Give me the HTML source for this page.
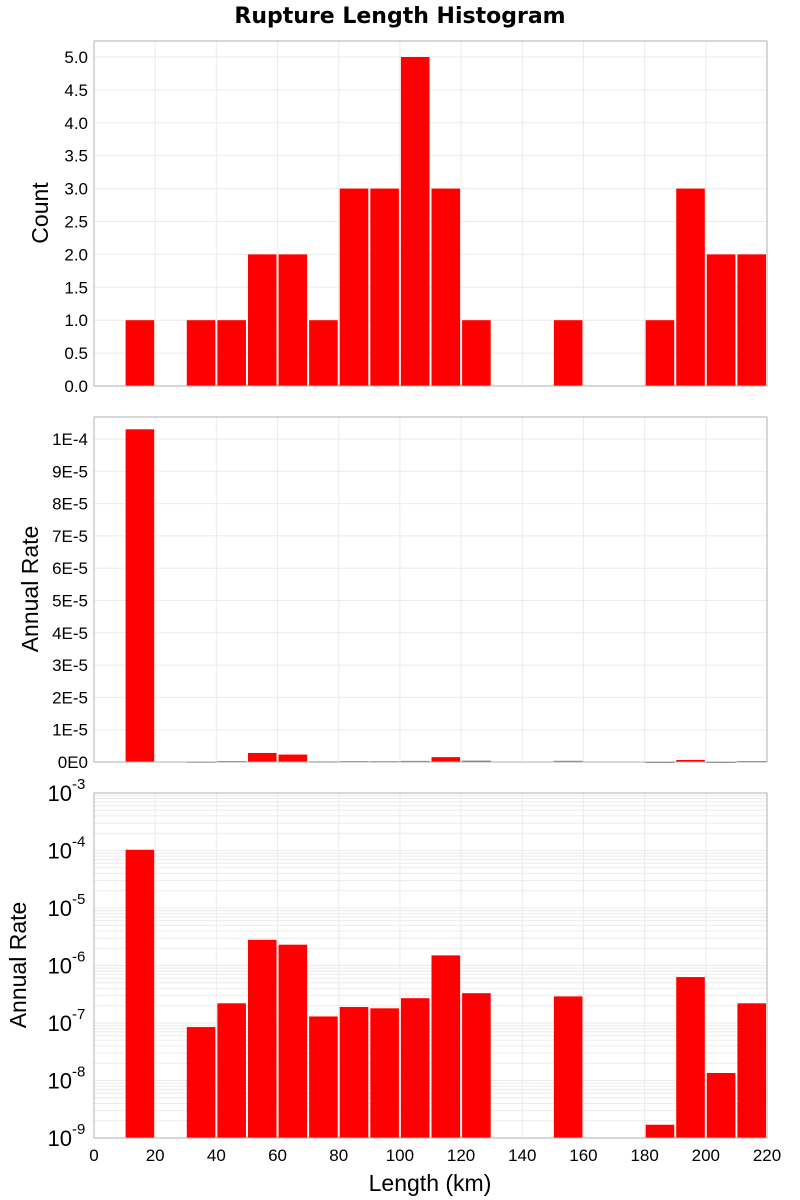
<!DOCTYPE html>
<html><head><meta charset="utf-8"><style>body{margin:0;background:#fff}svg{display:block;font-family:"Liberation Sans","DejaVu Sans",sans-serif}</style></head>
<body>
<svg id="c" width="800" height="1200">
<text x="400" y="23" text-anchor="middle" font-size="22" font-weight="bold" font-family="DejaVu Sans, sans-serif">Rupture Length Histogram</text>
</svg>
<script>
const binStarts=[10,20,30,40,50,60,70,80,90,100,110,120,130,140,150,160,170,180,190,200,210];
const counts=[1,0,1,1,2,2,1,3,3,5,3,1,0,0,1,0,0,1,3,2,2];
const rates=[1.03e-4,0,8.5e-8,2.2e-7,2.8e-6,2.3e-6,1.3e-7,1.9e-7,1.8e-7,2.7e-7,1.5e-6,3.3e-7,0,0,2.9e-7,0,0,1.7e-9,6.3e-7,1.35e-8,2.2e-7];
const xTicks=[0,20,40,60,80,100,120,140,160,180,200,220];
const countTicks=[0,0.5,1,1.5,2,2.5,3,3.5,4,4.5,5];
const rateTicks=[0,1e-5,2e-5,3e-5,4e-5,5e-5,6e-5,7e-5,8e-5,9e-5,1e-4];
const rateTickLabels=["0E0","1E-5","2E-5","3E-5","4E-5","5E-5","6E-5","7E-5","8E-5","9E-5","1E-4"];
const logExps=[-9,-8,-7,-6,-5,-4,-3];
const svg=document.getElementById('c');const NS='http://www.w3.org/2000/svg';
function mk(t,a,p){const e=document.createElementNS(NS,t);for(const k in a)e.setAttribute(k,a[k]);(p||svg).appendChild(e);return e;}
const L=94,R=767;const xs=v=>L+(v/220)*(R-L);
const panels=[{top:41,bot:386,name:'count'},{top:417,bot:762,name:'rate-linear'},{top:793,bot:1138,name:'rate-log'}];
const ys=[v=>386-v*65.8, v=>762-v/1e-5*32.3, v=>v>0?1138-(Math.log10(v)+9)*57.5:1138];
panels.forEach((p,i)=>{
 const g=mk('g',{});
 
 
 xTicks.forEach(t=>{const l=mk('line',{x1:xs(t),x2:xs(t),y1:p.top,y2:p.bot,stroke:'#ebebeb','stroke-width':1},g);});
 if(i==0){countTicks.forEach(t=>{const y=ys[0](t);const l=mk('line',{x1:L,x2:R,y1:y,y2:y,stroke:'#ebebeb'},g);const tx=mk('text',{x:L-6,y:y+6,'text-anchor':'end','font-size':17},g);tx.textContent=t.toFixed(1);});}
 if(i==1){rateTicks.forEach((t,j)=>{const y=ys[1](t);const l=mk('line',{x1:L,x2:R,y1:y,y2:y,stroke:'#ebebeb'},g);const tx=mk('text',{x:L-6,y:y+6,'text-anchor':'end','font-size':17},g);tx.textContent=rateTickLabels[j];});}
 if(i==2){logExps.forEach(e=>{for(let m=1;m<10;m++){if(e==-3&&m>1)break;const y=ys[2](m*Math.pow(10,e));const l=mk('line',{x1:L,x2:R,y1:y,y2:y,stroke:'#ebebeb'},g);}
  const y=ys[2](Math.pow(10,e));const tx=mk('text',{x:L-22,y:y+8,'text-anchor':'end','font-size':22},g);tx.textContent='10';
  const sp=mk('text',{x:L-22,y:y-4,'text-anchor':'start','font-size':15},g);sp.textContent=String(e);});}
 const vals=i==0?counts:rates;
 binStarts.forEach((b,j)=>{const v=vals[j];if(!(v>0))return;const y=ys[i](v);const x0=xs(b)+1,x1=xs(b+10)-1;const r=mk('rect',{x:x0,y:y,width:x1-x0,height:Math.max(p.bot-y,0.8),fill:'#ff0000',stroke:(p.bot-y)<2?'#777':'none','stroke-width':0.5},g);});
 const fr=mk('rect',{x:L,y:p.top,width:R-L,height:p.bot-p.top,fill:'none',stroke:'#b0b0b0'},g);
});
xTicks.forEach(t=>{const tx=mk('text',{x:xs(t),y:1161,'text-anchor':'middle','font-size':17});tx.textContent=t;});
const xt=mk('text',{x:430,y:1191,'text-anchor':'middle','font-size':23});xt.textContent='Length (km)';
[['Count',213,48],['Annual Rate',589,38],['Annual Rate',965,26]].forEach(a=>{const t=mk('text',{x:a[2],y:a[1],'text-anchor':'middle','font-size':23,transform:'rotate(-90 '+a[2]+' '+a[1]+')'});t.textContent=a[0];});
</script>
</body></html>
